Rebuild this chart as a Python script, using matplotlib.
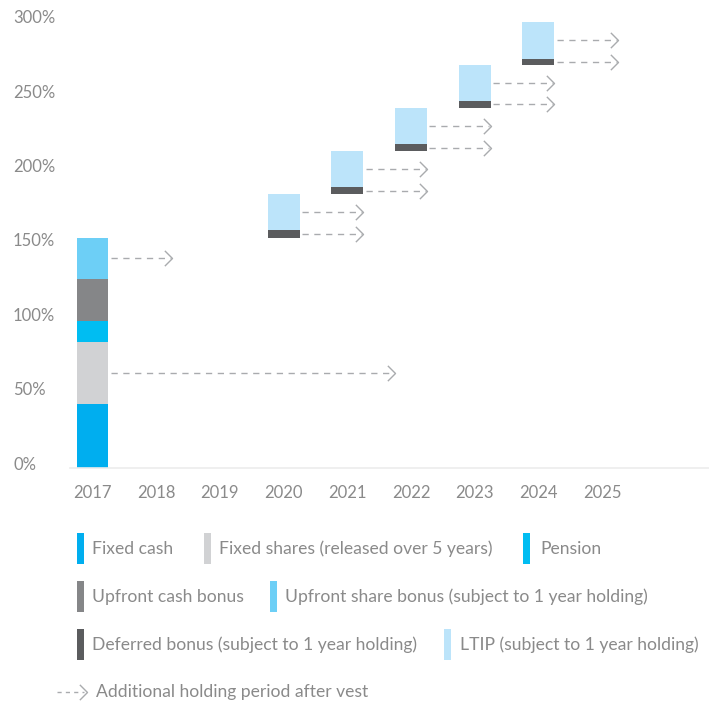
import matplotlib
matplotlib.use('Agg')
import matplotlib.pyplot as plt
import matplotlib.transforms as mtransforms
from matplotlib.path import Path
from matplotlib.patches import Rectangle
from matplotlib.lines import Line2D

# ---- data (% of fixed pay) ----
YEARS = ['2017', '2018', '2019', '2020', '2021', '2022', '2023', '2024', '2025']
STACK_2017 = ['Fixed cash', 'Fixed shares', 'Pension', 'Upfront cash bonus', 'Upfront share bonus']
STACK_2017_VALUES = [43, 42, 14, 28, 28]
STACK_2017_HOLD = [0, 4.5, 0, 0, 1]          # years of holding after vest (arrow length)
VEST_YEARS = ['2020', '2021', '2022', '2023', '2024']
DEFERRED_VALUES = [5, 5, 5, 5, 4]
LTIP_VALUES = [24, 24, 24, 24, 25]
DEFERRED_HOLD = [1, 1, 1, 1, 1]
LTIP_HOLD = [1, 1, 1, 1, 1]
Y_TICKS = [0, 50, 100, 150, 200, 250, 300]

COLORS = {'Fixed cash': '#00aeef', 'Fixed shares': '#d1d2d4', 'Pension': '#00bdf2',
          'Upfront cash bonus': '#858688', 'Upfront share bonus': '#6dcff6',
          'Deferred bonus': '#5b5c5e', 'LTIP': '#bce4fa'}
TXT = '#8a8a8a'
ARROW = '#a9abae'
FONT = ['Lato', 'DejaVu Sans']

plt.rcParams['font.family'] = FONT
W, H = 709, 707
fig = plt.figure(figsize=(W / 100, H / 100), dpi=100)
ax = fig.add_axes([70 / W, 1 - 468 / H, (W - 70) / W, (468 - 10) / H])

BAR_W = 0.5
CHEVRON = Path([(-1, 1), (0, 0), (-1, -1)], [Path.MOVETO, Path.LINETO, Path.LINETO])


def arrow(x0, y, length):
    x1 = x0 + length
    ax.plot([x0 + 0.04, x1 - 0.02], [y, y], color=ARROW, lw=1.0,
            ls=(0, (4.5, 4.0)), solid_capstyle='butt', dash_capstyle='butt')
    ax.plot([x1], [y], marker=CHEVRON, ms=11, mfc='none', mec=ARROW, mew=1.0)


# 2017 stack
x17 = YEARS.index('2017')
bottom = 0
for name, v, hold in zip(STACK_2017, STACK_2017_VALUES, STACK_2017_HOLD):
    ax.bar(x17, v, BAR_W, bottom=bottom, color=COLORS[name], lw=0)
    if hold:
        arrow(x17 + BAR_W / 2, bottom + v / 2, hold)
    bottom += v

# vesting years: deferred bonus + LTIP, stepping up from the running total
for yr, d, l, dh, lh in zip(VEST_YEARS, DEFERRED_VALUES, LTIP_VALUES, DEFERRED_HOLD, LTIP_HOLD):
    x = YEARS.index(yr)
    ax.bar(x, d, BAR_W, bottom=bottom, color=COLORS['Deferred bonus'], lw=0)
    ax.bar(x, l, BAR_W, bottom=bottom + d, color=COLORS['LTIP'], lw=0)
    arrow(x + BAR_W / 2, bottom + d / 2, dh)
    arrow(x + BAR_W / 2, bottom + d + l / 2, lh)
    bottom += d + l

ax.set_xlim(-0.353, (W - 92.5) / 63.7)
ax.set_ylim(0, 458 / 1.487)
ax.set_xticks(range(len(YEARS)))
ax.set_xticklabels(YEARS)
ax.set_yticks(Y_TICKS)
ax.set_yticklabels([f'{t}%' for t in Y_TICKS])
ax.tick_params(axis='both', length=0, labelsize=12, labelcolor=TXT)
ax.tick_params(axis='x', pad=12)
ax.tick_params(axis='y', pad=41)
up = mtransforms.ScaledTranslation(0, 5 / 100, fig.dpi_scale_trans)
for lab in ax.get_yticklabels():
    lab.set_ha('left')
    lab.set_transform(lab.get_transform() + up)
for s in ['top', 'right', 'left']:
    ax.spines[s].set_visible(False)
ax.spines['bottom'].set_color('#ececec')
ax.spines['bottom'].set_linewidth(1.2)

# ---- legend (figure pixel layout) ----
LEGEND = [
    ('Fixed cash', 'Fixed cash', 77, 92, 549),
    ('Fixed shares', 'Fixed shares (released over 5 years)', 204, 219, 549),
    ('Pension', 'Pension', 523, 540, 549),
    ('Upfront cash bonus', 'Upfront cash bonus', 77, 92, 597),
    ('Upfront share bonus', 'Upfront share bonus (subject to 1 year holding)', 270, 285, 597),
    ('Deferred bonus', 'Deferred bonus (subject to 1 year holding)', 77, 92, 645),
    ('LTIP', 'LTIP (subject to 1 year holding)', 444, 460, 645),
]
for key, label, mx, tx, yc in LEGEND:
    fig.patches.append(Rectangle((mx / W, 1 - (yc + 15) / H), 7 / W, 31 / H,
                                 transform=fig.transFigure, color=COLORS[key], lw=0))
    fig.text(tx / W, 1 - yc / H, label, fontsize=12.6, color=TXT, va='center', ha='left')

fig.lines.append(Line2D([57 / W, 84 / W], [1 - 692 / H] * 2, transform=fig.transFigure,
                        color=ARROW, lw=1.0, ls=(0, (3, 3))))
fig.lines.append(Line2D([87 / W], [1 - 692 / H], transform=fig.transFigure, marker=CHEVRON,
                        ms=11, mfc='none', mec=ARROW, mew=1.0))
fig.text(96 / W, 1 - 692 / H, 'Additional holding period after vest', fontsize=12.6,
         color=TXT, va='center', ha='left')

fig.savefig('out.png', dpi=100)
